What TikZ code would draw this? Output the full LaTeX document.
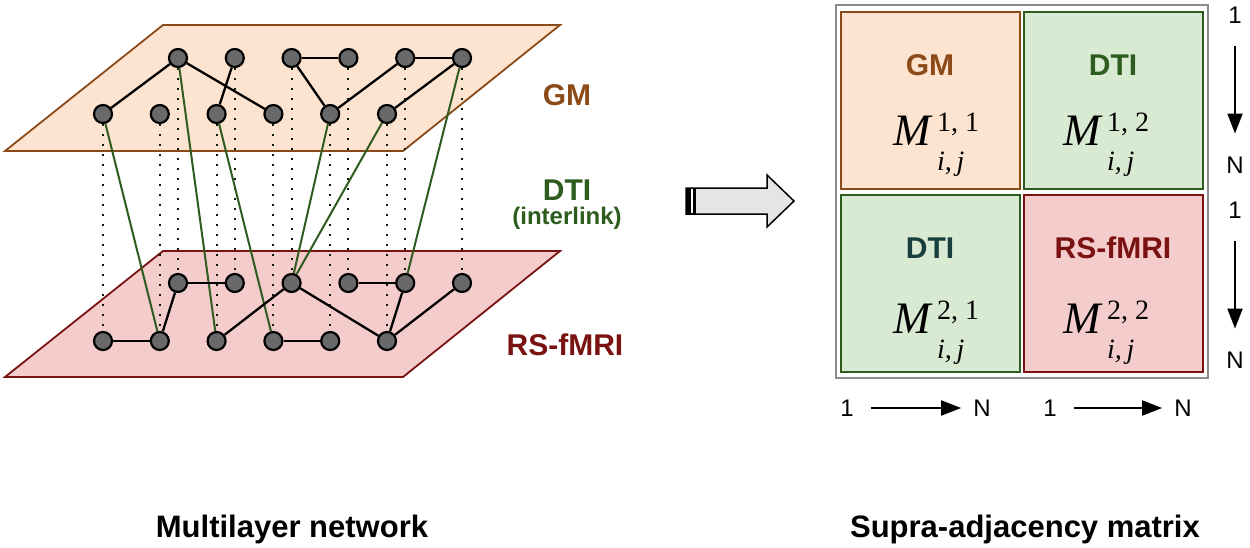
\documentclass[tikz,border=0pt]{standalone}
\usepackage{fontspec}
\setmainfont{Liberation Sans}
\newfontfamily\timesf{Liberation Serif}
\usepackage{xcolor}
\usetikzlibrary{arrows.meta, positioning, backgrounds}

\definecolor{gmbrown}{RGB}{139,74,24}
\definecolor{gmfill}{RGB}{253,228,208}
\definecolor{dtigreen}{RGB}{45,92,30}
\definecolor{dtifill}{RGB}{217,234,211}
\definecolor{dtiteal}{RGB}{25,62,62}
\definecolor{rsred}{RGB}{122,18,18}
\definecolor{rsfill}{RGB}{245,204,204}
\definecolor{nodegray}{RGB}{105,105,105}

\pgfdeclarelayer{planes}
\pgfsetlayers{planes,background,main}

\begin{document}
\begin{tikzpicture}[x=1pt, y=-1pt,
    vertex/.style={circle, draw=black, fill=nodegray, line width=2.2pt,
                   minimum size=18pt, inner sep=0pt},
    link/.style={line width=2.3pt},
    interlink/.style={draw=dtigreen, line width=2pt},
    vdots/.style={draw=black!70!dtigreen, line width=2pt, dash pattern=on 2pt off 8pt},
    plane/.style={line width=1.8pt},
    layertxt/.style={font=\fontsize{30}{34}\selectfont\bfseries},
    cell/.style={rectangle, line width=1.5pt, minimum width=179pt, minimum height=177pt},
    mletter/.style={font=\fontsize{45}{50}\selectfont\timesf\itshape, anchor=base west, inner sep=0pt},
    mscript/.style={font=\fontsize{28}{28}\selectfont\timesf, anchor=base west, inner sep=0pt},
    numtxt/.style={font=\fontsize{24}{26}\selectfont, inner sep=0pt},
    axis/.style={-{Triangle[length=20pt, width=15pt]}, line width=2pt},
    caption/.style={font=\fontsize{31}{34}\selectfont\bfseries, anchor=base}]

\useasboundingbox (0,0) rectangle (1250,547);

% layer nodes
\foreach \i in {1,...,6} {
  \node[vertex] (gu\i) at ({178+56.8*(\i-1)},58) {};
  \node[vertex] (gl\i) at ({103+56.8*(\i-1)},114) {};
  \node[vertex] (ru\i) at ({178+56.8*(\i-1)},283) {};
  \node[vertex] (rl\i) at ({103+56.8*(\i-1)},341) {};
}

\begin{pgfonlayer}{planes}
\filldraw[plane, draw=gmbrown, fill=gmfill] (5,151) -- (403,151) -- (560,25) -- (163,25) -- cycle;
\filldraw[plane, draw=rsred, fill=rsfill] (5,377) -- (403,377) -- (560,251) -- (163,251) -- cycle;
\end{pgfonlayer}

\begin{pgfonlayer}{background}
\foreach \i in {1,...,6} {
  \draw[vdots] (gu\i) -- (ru\i);
  \draw[vdots] (gl\i) -- (rl\i);
}
\foreach \a/\b in {gl1/rl2, gu1/rl3, gl3/rl4, gl5/ru3, gl6/ru3, gu6/ru5}
  \draw[interlink] (\a) -- (\b);
\foreach \a/\b in {gu1/gl1, gu1/gl4, gu2/gl3, gu3/gu4, gu3/gl5, gl5/gu5, gu5/gu6, gl6/gu6,
                   rl1/rl2, rl2/ru1, ru1/ru2, rl3/ru3, ru3/rl6, rl4/rl5, ru4/ru5, ru5/rl6, rl6/ru6}
  \draw[link] (\a) -- (\b);
\end{pgfonlayer}

\node[layertxt, text=gmbrown] (gmtxt) at (567,95) {GM};
\node[layertxt, text=dtigreen] (dtitxt) at (567,190) {DTI};
\node[font=\fontsize{24}{26}\selectfont\bfseries, text=dtigreen, below=0pt of dtitxt] (intxt) {(interlink)};
\node[layertxt, text=rsred] (rstxt) at (565,345) {RS-fMRI};

% block arrow
\filldraw[fill=black!10, draw=black, line width=1.5pt]
  (686,188) -- (767,188) -- (767,175) -- (794,201) -- (767,227) -- (767,214) -- (686,214) -- cycle;
\fill (686,188) rectangle (696,214);
\draw[white, line width=1.2pt] (692,189) -- (692,213);

% supra-adjacency matrix
\draw[draw=black!45, line width=2.5pt] (836,5) rectangle (1208,378);
\node[cell, draw=gmbrown, fill=gmfill] (c11) at (930.5,100.5) {};
\node[cell, draw=dtigreen, fill=dtifill] (c12) at (1113.5,100.5) {};
\node[cell, draw=dtigreen, fill=dtifill] (c21) at (930.5,283.5) {};
\node[cell, draw=rsred, fill=rsfill] (c22) at (1113.5,283.5) {};

\node[layertxt, text=gmbrown] (t11) at (930,65) {GM};
\node[layertxt, text=dtigreen] (t12) at (1113,65) {DTI};
\node[layertxt, text=dtiteal] (t21) at (930,248) {DTI};
\node[layertxt, text=rsred] (t22) at (1113,248) {RS-fMRI};

\foreach \r/\c/\x/\y in {1/1/893/145, 1/2/1063/145, 2/1/893/333, 2/2/1063/333} {
  \node[mletter] (m\r\c) at (\x,\y) {M};
  \node[mscript] (sup\r\c) at (\x+44,\y-14) {\r, \c};
  \node[mscript] (sub\r\c) at (\x+44,\y+25) {\itshape i,\thinspace j};
}

% index arrows
\node[numtxt] (v1a) at (1235,15) {1};
\node[numtxt] (vNa) at (1235,165) {N};
\node[numtxt] (v1b) at (1235,210) {1};
\node[numtxt] (vNb) at (1235,360) {N};
\node[numtxt] (h1a) at (847,408) {1};
\node[numtxt] (hNa) at (982,408) {N};
\node[numtxt] (h1b) at (1050,408) {1};
\node[numtxt] (hNb) at (1183,408) {N};

\draw[axis, shorten <=23pt, shorten >=23pt] (v1a) -- (vNa);
\draw[axis, shorten <=23pt, shorten >=23pt] (v1b) -- (vNb);
\draw[axis, shorten <=17pt, shorten >=12pt] (h1a) -- (hNa);
\draw[axis, shorten <=17pt, shorten >=12pt] (h1b) -- (hNb);

\node[caption] (cap1) at (292,537) {Multilayer network};
\node[caption] (cap2) at (1025,537) {Supra-adjacency matrix};
\end{tikzpicture}
\end{document}
